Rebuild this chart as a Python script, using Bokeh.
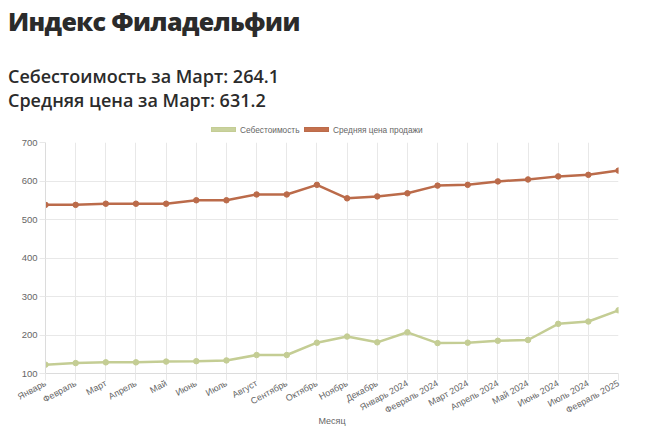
from bokeh.plotting import figure
from bokeh.models import Range1d, FixedTicker, Div
from bokeh.layouts import column
from bokeh.embed import file_html
from bokeh.resources import INLINE

months = ["Январь", "Февраль", "Март", "Апрель", "Май", "Июнь", "Июль", "Август",
          "Сентябрь", "Октябрь", "Ноябрь", "Декабрь", "Январь 2024", "Февраль 2024",
          "Март 2024", "Апрель 2024", "Май 2024", "Июнь 2024", "Июль 2024", "Февраль 2025"]
cost = [123, 127, 129, 129, 131, 132, 134, 148, 148, 180, 196, 181, 207, 179,
        180, 185, 187, 229, 235, 264.1]
price = [538, 538, 541, 541, 541, 550, 550, 565, 565, 590, 555, 560, 568, 588,
         590, 599, 604, 612, 616, 627]
y_ticks = [100, 200, 300, 400, 500, 600, 700]
series_names = ["Себестоимость", "Средняя цена продажи"]

title_text = "Индекс Филадельфии"
sub1 = "Себестоимость за Март: 264.1"
sub2 = "Средняя цена за Март: 631.2"

GREEN = "#c4cd94"
RED = "#bb6b4a"
GRID = "#e8e8e8"
TXT = "#666666"

def abs_div(left, top, style, content=""):
    return (f'<div style="position:absolute;left:{left}px;top:{top}px;'
            f'white-space:nowrap;{style}">{content}</div>')

head_font = "font-family:'Open Sans';line-height:1;color:#2b2b2b;"
leg_font = "font-family:'Liberation Sans';font-size:8.3px;line-height:9px;color:#666666;"

header_html = (
    '<div style="position:relative;width:656px;height:136px;">'
    + abs_div(8, 9, head_font + "font-weight:800;font-size:25px;letter-spacing:-0.6px;", title_text)
    + abs_div(8, 67, head_font + "font-weight:600;font-size:18px;", sub1)
    + abs_div(8, 91, head_font + "font-weight:600;font-size:18px;", sub2)
    + abs_div(211, 127, "width:25px;height:5px;background:#c9d29e;border:1px solid #c4cd94;")
    + abs_div(240, 125.5, leg_font, series_names[0])
    + abs_div(304, 127, "width:25px;height:5px;background:#c4704d;border:1px solid #bb6b4a;")
    + abs_div(333, 125.5, leg_font, series_names[1])
    + '</div>'
)
header = Div(text=header_html, width=656, height=136, margin=(0, 0, 0, 0))

xs = list(range(len(months)))

p = figure(width=656, height=298, output_backend="svg", toolbar_location=None,
           x_range=Range1d(0, len(months) - 1), y_range=Range1d(100, 700),
           min_border_left=45, min_border_right=38, min_border_top=6,
           min_border_bottom=61, margin=(0, 0, 0, 0))
p.outline_line_color = None
p.background_fill_color = "white"

p.xaxis.ticker = FixedTicker(ticks=xs)
p.xaxis.major_label_overrides = {i: m for i, m in enumerate(months)}
p.xaxis.major_label_orientation = 0.5
p.yaxis.ticker = FixedTicker(ticks=y_ticks)

for ax in (p.xaxis[0], p.yaxis[0]):
    ax.major_label_text_font = "Liberation Sans"
    ax.major_label_text_color = TXT
    ax.major_tick_in = 0
    ax.major_tick_line_color = GRID
    ax.minor_tick_line_color = None
    ax.axis_line_color = "#dcdcdc"

p.yaxis.major_label_text_font_size = "9.5px"
p.xaxis.major_label_text_font_size = "9px"
p.yaxis.major_tick_out = 6
p.yaxis.major_label_standoff = 2
p.xaxis.major_tick_out = 7
p.xaxis.major_label_standoff = 2
p.xaxis.axis_label = "Месяц"
p.xaxis.axis_label_text_font = "Liberation Sans"
p.xaxis.axis_label_text_font_size = "9px"
p.xaxis.axis_label_text_font_style = "normal"
p.xaxis.axis_label_text_color = TXT
p.xaxis.axis_label_standoff = -7

p.xgrid.grid_line_color = GRID
p.ygrid.grid_line_color = GRID

p.line(xs, cost, line_color=GREEN, line_width=2.5)
p.scatter(xs, cost, size=5.5, fill_color=GREEN, line_color=GREEN)
p.line(xs, price, line_color=RED, line_width=2.5)
p.scatter(xs, price, size=5.5, fill_color=RED, line_color=RED)

layout = column(header, p, spacing=0, margin=(0, 0, 0, 0))
open("out.html", "w").write(file_html(layout, INLINE))
